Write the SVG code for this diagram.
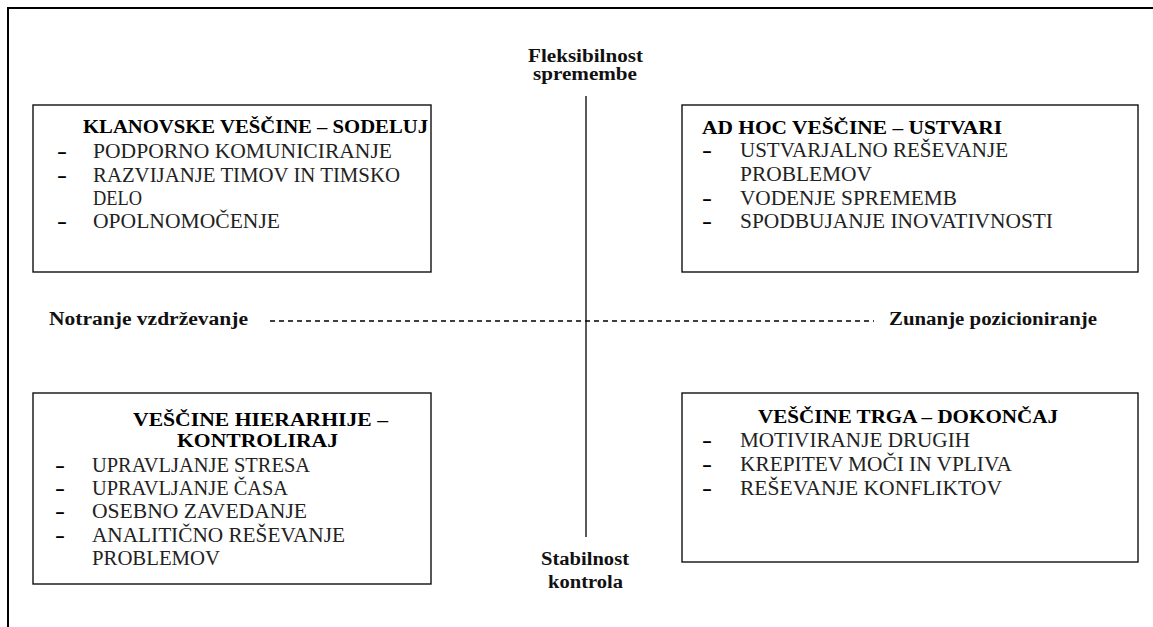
<svg xmlns="http://www.w3.org/2000/svg" width="1153" height="627" viewBox="0 0 1153 627" font-family="'Liberation Serif', 'Times New Roman', serif">
  <style>
    .frame { fill: none; stroke: #000; stroke-width: 2; }
    .box { fill: #fff; stroke: #111; stroke-width: 1.4; }
    .axis { fill: none; stroke: #000; stroke-width: 1.3; }
    .dash { fill: none; stroke: #000; stroke-width: 1.3; stroke-dasharray: 5 4; }
    .head { font-family: 'Liberation Serif', 'Times New Roman', serif; font-weight: bold; font-size: 19px; fill: #000; }
    .item { font-family: 'Liberation Serif', 'Times New Roman', serif; font-size: 20px; fill: #222; }
    .bullet { font-family: 'Liberation Serif', 'Times New Roman', serif; font-weight: bold; font-size: 22px; fill: #000; }
    .lab { font-family: 'Liberation Serif', 'Times New Roman', serif; font-weight: bold; font-size: 18px; fill: #111; }
  </style>
  <rect width="1153" height="627" fill="#fff"/>

  <!-- page frame (top and left edges) -->
  <path class="frame" d="M8,627 V8 H1153"/>

  <!-- axes -->
  <g id="connectors">
    <line class="axis" x1="586" y1="96" x2="586" y2="537"/>
    <line class="dash" x1="270" y1="321" x2="874" y2="321"/>
  </g>

  <!-- axis labels -->
  <g id="label-top">
    <text class="lab" x="528" y="62" textLength="115" lengthAdjust="spacingAndGlyphs">Fleksibilnost</text>
    <text class="lab" x="533" y="80" textLength="104" lengthAdjust="spacingAndGlyphs">spremembe</text>
  </g>
  <g id="label-bottom">
    <text class="lab" x="541" y="565" textLength="88" lengthAdjust="spacingAndGlyphs">Stabilnost</text>
    <text class="lab" x="548" y="588" textLength="75" lengthAdjust="spacingAndGlyphs">kontrola</text>
  </g>
  <g id="label-left">
    <text class="lab" x="49" y="325" textLength="199" lengthAdjust="spacingAndGlyphs">Notranje vzdrževanje</text>
  </g>
  <g id="label-right">
    <text class="lab" x="889" y="325" textLength="208" lengthAdjust="spacingAndGlyphs">Zunanje pozicioniranje</text>
  </g>

  <!-- quadrant: clan -->
  <g id="clan">
    <rect class="box" x="33" y="105" width="398" height="167"/>
    <text class="head" x="83" y="133" textLength="345" lengthAdjust="spacingAndGlyphs">KLANOVSKE VEŠČINE – SODELUJ</text>
    <text class="bullet" x="57" y="158" textLength="10" lengthAdjust="spacingAndGlyphs">-</text>
    <text class="item" x="93" y="158" textLength="299" lengthAdjust="spacingAndGlyphs">PODPORNO KOMUNICIRANJE</text>
    <text class="bullet" x="57" y="182" textLength="10" lengthAdjust="spacingAndGlyphs">-</text>
    <text class="item" x="93" y="182" textLength="307" lengthAdjust="spacingAndGlyphs">RAZVIJANJE TIMOV IN TIMSKO</text>
    <text class="item" x="93" y="205" textLength="49" lengthAdjust="spacingAndGlyphs">DELO</text>
    <text class="bullet" x="57" y="228" textLength="10" lengthAdjust="spacingAndGlyphs">-</text>
    <text class="item" x="93" y="228" textLength="187" lengthAdjust="spacingAndGlyphs">OPOLNOMOČENJE</text>
  </g>

  <!-- quadrant: ad hoc -->
  <g id="adhoc">
    <rect class="box" x="682" y="105" width="456" height="167"/>
    <text class="head" x="702" y="134" textLength="300" lengthAdjust="spacingAndGlyphs">AD HOC VEŠČINE – USTVARI</text>
    <text class="bullet" x="702" y="157" textLength="10" lengthAdjust="spacingAndGlyphs">-</text>
    <text class="item" x="740" y="157" textLength="268" lengthAdjust="spacingAndGlyphs">USTVARJALNO REŠEVANJE</text>
    <text class="item" x="740" y="181" textLength="132" lengthAdjust="spacingAndGlyphs">PROBLEMOV</text>
    <text class="bullet" x="702" y="205" textLength="10" lengthAdjust="spacingAndGlyphs">-</text>
    <text class="item" x="740" y="205" textLength="217" lengthAdjust="spacingAndGlyphs">VODENJE SPREMEMB</text>
    <text class="bullet" x="702" y="228" textLength="10" lengthAdjust="spacingAndGlyphs">-</text>
    <text class="item" x="740" y="228" textLength="313" lengthAdjust="spacingAndGlyphs">SPODBUJANJE INOVATIVNOSTI</text>
  </g>

  <!-- quadrant: hierarchy -->
  <g id="hierarchy">
    <rect class="box" x="33" y="393" width="398" height="191"/>
    <text class="head" x="133" y="426" textLength="255" lengthAdjust="spacingAndGlyphs">VEŠČINE HIERARHIJE –</text>
    <text class="head" x="177" y="447" textLength="161" lengthAdjust="spacingAndGlyphs">KONTROLIRAJ</text>
    <text class="bullet" x="55" y="472" textLength="10" lengthAdjust="spacingAndGlyphs">-</text>
    <text class="item" x="92" y="472" textLength="218" lengthAdjust="spacingAndGlyphs">UPRAVLJANJE STRESA</text>
    <text class="bullet" x="55" y="495" textLength="10" lengthAdjust="spacingAndGlyphs">-</text>
    <text class="item" x="92" y="495" textLength="196" lengthAdjust="spacingAndGlyphs">UPRAVLJANJE ČASA</text>
    <text class="bullet" x="55" y="518" textLength="10" lengthAdjust="spacingAndGlyphs">-</text>
    <text class="item" x="92" y="518" textLength="215" lengthAdjust="spacingAndGlyphs">OSEBNO ZAVEDANJE</text>
    <text class="bullet" x="55" y="542" textLength="10" lengthAdjust="spacingAndGlyphs">-</text>
    <text class="item" x="92" y="542" textLength="253" lengthAdjust="spacingAndGlyphs">ANALITIČNO REŠEVANJE</text>
    <text class="item" x="92" y="565" textLength="128" lengthAdjust="spacingAndGlyphs">PROBLEMOV</text>
  </g>

  <!-- quadrant: market -->
  <g id="market">
    <rect class="box" x="682" y="393" width="456" height="169"/>
    <text class="head" x="758" y="423" textLength="300" lengthAdjust="spacingAndGlyphs">VEŠČINE TRGA – DOKONČAJ</text>
    <text class="bullet" x="702" y="447" textLength="10" lengthAdjust="spacingAndGlyphs">-</text>
    <text class="item" x="740" y="447" textLength="230" lengthAdjust="spacingAndGlyphs">MOTIVIRANJE DRUGIH</text>
    <text class="bullet" x="702" y="471" textLength="10" lengthAdjust="spacingAndGlyphs">-</text>
    <text class="item" x="740" y="471" textLength="272" lengthAdjust="spacingAndGlyphs">KREPITEV MOČI IN VPLIVA</text>
    <text class="bullet" x="702" y="495" textLength="10" lengthAdjust="spacingAndGlyphs">-</text>
    <text class="item" x="740" y="495" textLength="262" lengthAdjust="spacingAndGlyphs">REŠEVANJE KONFLIKTOV</text>
  </g>
</svg>
